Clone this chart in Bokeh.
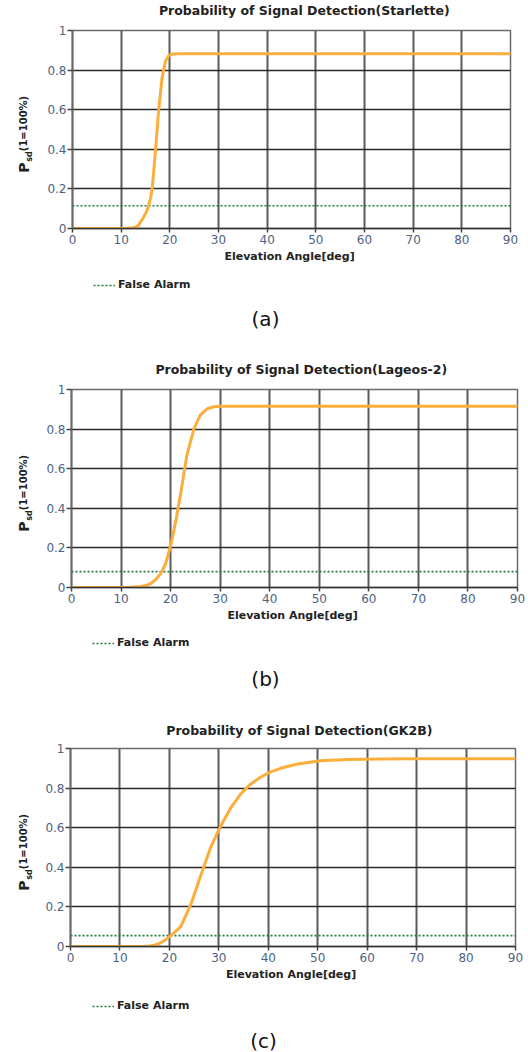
import math
from bokeh.plotting import figure
from bokeh.layouts import column, row
from bokeh.models import Range1d, Label, Legend, LegendItem, FixedTicker
from bokeh.embed import file_html
from bokeh.resources import INLINE

# ---------------- data ----------------
x_ticks = [0, 10, 20, 30, 40, 50, 60, 70, 80, 90]
y_ticks = [0, 0.2, 0.4, 0.6, 0.8, 1.0]
y_tick_labels = ["0", "0.2", "0.4", "0.6", "0.8", "1"]

titles = ["Probability of  Signal Detection(Starlette)",
          "Probability of  Signal Detection(Lageos-2)",
          "Probability of  Signal Detection(GK2B)"]
captions = ["(a)", "(b)", "(c)"]
x_label = "Elevation  Angle[deg]"
legend_label = "False Alarm"

# (a) Starlette
a_angle = [0, 5, 10, 12, 13, 13.6, 14.6, 15.2, 15.7, 16.1, 16.4, 17.0, 17.7, 18.4, 19.1,
           19.8, 20.5, 22, 30, 40, 50, 60, 70, 80, 90]
a_psd = [0, 0, 0, 0.002, 0.008, 0.017, 0.057, 0.085, 0.12, 0.16, 0.21, 0.377, 0.596, 0.76,
         0.845, 0.874, 0.881, 0.882, 0.882, 0.882, 0.882, 0.882, 0.882, 0.882, 0.882]
a_false_alarm = 0.115

# (b) Lageos-2
b_angle = [0, 5, 10, 12, 14, 15, 16, 17, 18, 19, 20, 21, 22, 23.3, 24.7, 26, 27.4, 28.7,
           30, 40, 50, 60, 70, 80, 90]
b_psd = [0, 0, 0, 0.001, 0.005, 0.01, 0.02, 0.04, 0.07, 0.12, 0.21, 0.33, 0.47, 0.67, 0.80,
         0.872, 0.903, 0.913, 0.915, 0.915, 0.915, 0.915, 0.915, 0.915, 0.915]
b_false_alarm = 0.08

# (c) GK2B
c_angle = [0, 5, 10, 14, 15, 16, 17, 18, 19, 20, 21, 22.3, 24.3, 26.3, 28.3, 30.4, 32.4,
           34.4, 36.4, 38.5, 40.5, 42.5, 45.9, 50.6, 56, 62.8, 70, 80, 90]
c_psd = [0, 0, 0, 0, 0.001, 0.003, 0.007, 0.015, 0.03, 0.05, 0.07, 0.1, 0.21, 0.355, 0.498,
         0.61, 0.70, 0.77, 0.82, 0.856, 0.882, 0.90, 0.922, 0.938, 0.944, 0.947, 0.948, 0.948,
         0.948]
c_false_alarm = 0.055

series = [(a_angle, a_psd, a_false_alarm),
          (b_angle, b_psd, b_false_alarm),
          (c_angle, c_psd, c_false_alarm)]

# ---------------- layout / style ----------------
YL_W = 40          # width of the strip holding the y label
FRAME_H = 198
MAIN_TOP = 10
MAIN_BOTTOM = 44
# per panel: frame-left, right border, top strip height, bottom strip height
panel_geom = [
    (72, 18, 20, 88),
    (71, 11, 19, 89),
    (70, 13, 18, 62),
]
title_cx = [306, 303, 301]
title_cy = [10, 9, 10]
legend_x = [93, 92, 92]
legend_cy = [13, 12, 16]
caption_c = [(265, 46), (265, 47), (263, 50)]

CURVE = "#FBAE3C"
FA = "#1E7B3A"
TICKC = "#4e6280"
TXT = "#222222"
FONT = "DejaVu Sans"


def blank(w, h, yspan=None):
    yspan = h if yspan is None else yspan
    f = figure(width=w, height=h, output_backend="svg", toolbar_location=None,
               x_range=Range1d(0, w), y_range=Range1d(yspan, 0),
               x_axis_location=None, y_axis_location=None,
               min_border=0, min_border_left=0, min_border_right=0,
               min_border_top=0, min_border_bottom=0)
    f.grid.visible = False
    f.outline_line_color = None
    f.background_fill_color = "white"
    f.border_fill_color = "white"
    return f


children = []
for i in range(3):
    fleft, right, top_h, bot_h = panel_geom[i]
    ang, psd, fa = series[i]
    main_h = MAIN_TOP + FRAME_H + MAIN_BOTTOM

    # ---- title strip
    top = blank(528, top_h)
    top.add_layout(Label(x=title_cx[i], y=title_cy[i], text=titles[i], text_align="center",
                         text_baseline="middle", text_font=FONT, text_font_style="bold",
                         text_font_size="12.5px", text_color=TXT))

    # ---- y-label strip: its frame is aligned with the chart frame by the row layout
    yl = blank(YL_W, main_h, yspan=FRAME_H)
    cy = FRAME_H / 2
    yl.add_layout(Label(x=23, y=cy + 38, text="P", angle=math.pi / 2, text_align="center",
                        text_baseline="middle", text_font=FONT, text_font_style="bold",
                        text_font_size="14px", text_color=TXT))
    yl.add_layout(Label(x=28.5, y=cy + 27, text="sd", angle=math.pi / 2,
                        text_align="center", text_baseline="middle", text_font=FONT,
                        text_font_style="bold", text_font_size="8px", text_color=TXT))
    yl.add_layout(Label(x=23, y=cy - 6, text="(1=100%)", angle=math.pi / 2,
                        text_align="center", text_baseline="middle", text_font=FONT,
                        text_font_style="bold", text_font_size="10px", text_color=TXT))

    # ---- main chart
    p = figure(width=528 - YL_W, height=main_h, output_backend="svg", toolbar_location=None,
               x_range=Range1d(0, 90), y_range=Range1d(0, 1),
               min_border_left=fleft - YL_W, min_border_right=right,
               min_border_top=MAIN_TOP, min_border_bottom=MAIN_BOTTOM)
    p.background_fill_color = "white"
    p.border_fill_color = "white"
    p.outline_line_color = "#6a6a6a"
    p.outline_line_width = 1.5

    p.xaxis.ticker = FixedTicker(ticks=x_ticks)
    p.yaxis.ticker = FixedTicker(ticks=y_ticks)
    p.yaxis.major_label_overrides = {t: l for t, l in zip(y_ticks, y_tick_labels)}
    for ax in (p.xaxis, p.yaxis):
        ax.minor_tick_line_color = None
        ax.major_tick_in = 0
        ax.major_tick_line_color = "#444444"
        ax.major_tick_line_width = 1.5
        ax.major_label_text_font = FONT
        ax.major_label_text_font_size = "12px"
        ax.major_label_text_color = TICKC
    p.xaxis.major_tick_out = 4
    p.xaxis.major_label_standoff = 2
    p.yaxis.major_tick_out = 5
    p.yaxis.major_label_standoff = 1
    p.xaxis.axis_line_color = "#333333"
    p.xaxis.axis_line_width = 1.5
    p.yaxis.axis_line_color = "#6a6a6a"
    p.yaxis.axis_line_width = 2
    p.xaxis.axis_label = x_label
    p.xaxis.axis_label_text_font = FONT
    p.xaxis.axis_label_text_font_style = "bold"
    p.xaxis.axis_label_text_font_size = "11px"
    p.xaxis.axis_label_text_color = TXT
    p.xaxis.axis_label_standoff = 3

    p.xgrid.grid_line_color = "#5a5a5a"
    p.xgrid.grid_line_width = 2
    p.ygrid.grid_line_color = "#2a2a2a"
    p.ygrid.grid_line_width = 1.5

    p.line(x=x_ticks, y=[fa] * len(x_ticks), line_color=FA, line_width=1.6, line_dash="2 2")
    p.line(x=ang, y=psd, line_color=CURVE, line_width=3, line_join="round", line_cap="round")

    # ---- legend + caption strip
    bot = blank(528, bot_h)
    # legend swatch only (NaN point: nothing is drawn in the strip itself)
    proxy = bot.line(x=[float("nan")], y=[float("nan")], line_color=FA, line_width=1.6,
                     line_dash="2 2")
    legend = Legend(items=[LegendItem(label=legend_label, renderers=[proxy])],
                    location=(legend_x[i], bot_h - legend_cy[i] - 6), padding=0, margin=0,
                    border_line_color=None, background_fill_alpha=0,
                    glyph_width=22, glyph_height=12, label_height=12, label_standoff=3,
                    label_text_font=FONT, label_text_font_style="bold",
                    label_text_font_size="11px", label_text_color=TXT)
    bot.add_layout(legend, "center")
    cx, ccy = caption_c[i]
    bot.add_layout(Label(x=cx, y=ccy, text=captions[i], text_align="center",
                         text_baseline="middle", text_font=FONT, text_font_size="20px",
                         text_color="#111111"))

    children.extend([top, row(yl, p, spacing=0), bot])

layout = column(*children, spacing=0)
open("out.html", "w").write(file_html(layout, INLINE))
